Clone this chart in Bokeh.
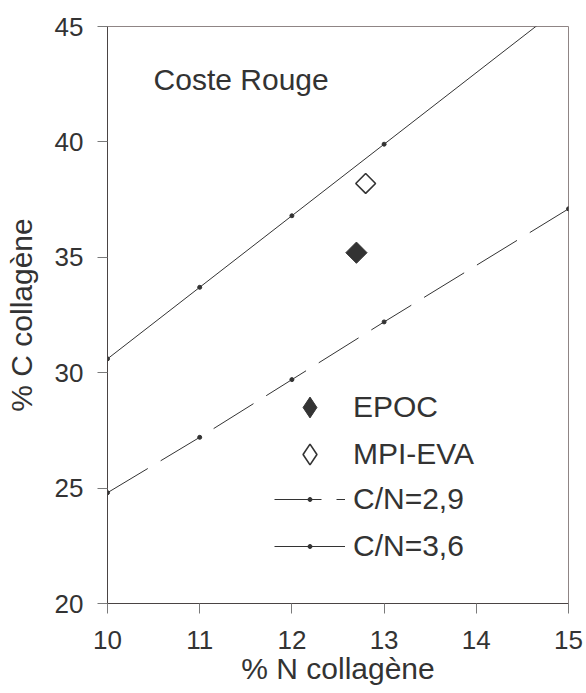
import math
from bokeh.plotting import figure
from bokeh.models import Range1d, Legend, LegendItem, Label, FixedTicker
from bokeh.embed import file_html
from bokeh.resources import INLINE

# ---- data ----
cn_x = [10, 11, 12, 13, 15]
cn36_y = [30.6, 33.7, 36.8, 39.9, 46.1]
cn29_y = [24.8, 27.2, 29.7, 32.2, 37.1]
epoc_x = [12.7]
epoc_y = [35.2]
mpi_x = [12.8]
mpi_y = [38.2]
x_ticks = [10, 11, 12, 13, 14, 15]
y_ticks = [20, 25, 30, 35, 40, 45]

FONT = "Liberation Sans"
TXT = "#333333"
INK = "#333333"

p = figure(width=586, height=693, output_backend="svg", toolbar_location=None,
           x_range=Range1d(10, 15), y_range=Range1d(20, 45),
           min_border_left=107, min_border_right=18, min_border_top=26,
           min_border_bottom=90, background_fill_color="white",
           border_fill_color="white")
p.grid.visible = False
p.outline_line_color = "#8f8585"
p.outline_line_width = 1

p.xaxis.axis_label = "% N collagène"
p.yaxis.axis_label = "% C collagène"
p.xaxis.ticker = FixedTicker(ticks=x_ticks)
p.yaxis.ticker = FixedTicker(ticks=y_ticks)
for ax in (p.xaxis[0], p.yaxis[0]):
    ax.axis_line_color = "#4a4444"
    ax.axis_line_width = 1
    ax.major_tick_line_color = "#7a7a7a"
    ax.major_tick_out = 10
    ax.major_tick_in = 0
    ax.minor_tick_line_color = None
    ax.major_label_text_font = FONT
    ax.major_label_text_font_size = "26px"
    ax.major_label_text_color = TXT
    ax.axis_label_text_font = FONT
    ax.axis_label_text_font_size = "30px"
    ax.axis_label_text_font_style = "normal"
    ax.axis_label_text_color = TXT
p.xaxis.major_label_standoff = 17
p.xaxis.axis_label_standoff = 0
p.yaxis.major_label_standoff = 14
p.yaxis.axis_label_standoff = 14

# C/N lines
l36 = p.line(cn_x, cn36_y, line_color=INK, line_width=1)
d36 = p.scatter(cn_x, cn36_y, marker="circle", size=4, fill_color=INK, line_color=INK)
l29 = p.line(cn_x, cn29_y, line_color=INK, line_width=1, line_dash="47 15")
d29 = p.scatter(cn_x, cn29_y, marker="circle", size=4, fill_color=INK, line_color=INK)

# samples: legend proxies (diamond marker, hidden under the plotted symbols)
e_leg = p.scatter(epoc_x, epoc_y, marker="diamond", size=12,
                  fill_color=INK, line_color=INK)
m_leg = p.scatter(mpi_x, mpi_y, marker="diamond", size=12,
                  fill_color="white", line_color=INK, line_width=1.6)
# plotted symbols: squares turned by 45 degrees
e = p.scatter(epoc_x, epoc_y, marker="square", size=15, angle=math.pi / 4,
              fill_color=INK, line_color=INK)
m = p.scatter(mpi_x, mpi_y, marker="square", size=14, angle=math.pi / 4,
              fill_color="white", line_color=INK, line_width=1.6)

common = dict(spacing=0, padding=0, margin=0, border_line_color=None,
              background_fill_alpha=0, label_standoff=8, label_height=46,
              glyph_width=71, label_text_font=FONT, label_text_font_size="30px",
              label_text_color=TXT)


def add_legend(label, renderers, center, glyph_h):
    row_h = max(glyph_h, 46)
    leg = Legend(items=[LegendItem(label=label, renderers=renderers)],
                 location=(167, center - row_h / 2), glyph_height=glyph_h, **common)
    p.add_layout(leg)


add_legend("EPOC", [e_leg], 196, 52)
add_legend("MPI-EVA", [m_leg], 149, 52)
add_legend("C/N=2,9", [l29, d29], 104, 10)
add_legend("C/N=3,6", [l36, d36], 57, 10)

p.add_layout(Label(x=10.5, y=42.7, text="Coste Rouge", text_font=FONT,
                   text_font_size="30px", text_color=TXT,
                   text_baseline="alphabetic"))

open("out.html", "w").write(file_html(p, INLINE))
